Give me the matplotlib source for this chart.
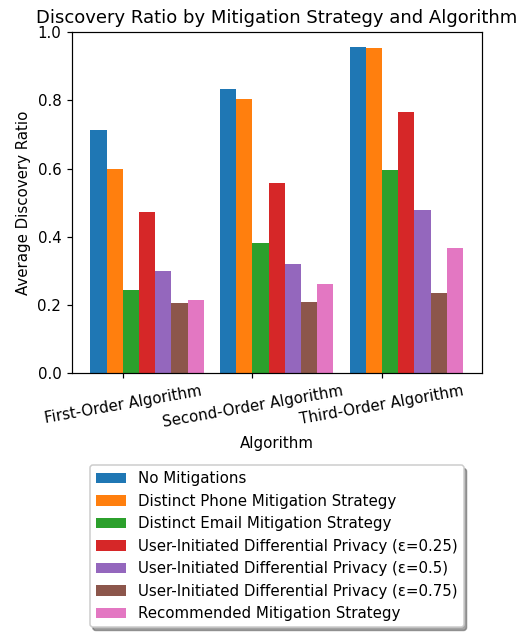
import numpy as np
import matplotlib.pyplot as plt

algorithms = ['First-Order Algorithm', 'Second-Order Algorithm', 'Third-Order Algorithm']
strategies = [
    'No Mitigations',
    'Distinct Phone Mitigation Strategy',
    'Distinct Email Mitigation Strategy',
    'User-Initiated Differential Privacy (ε=0.25)',
    'User-Initiated Differential Privacy (ε=0.5)',
    'User-Initiated Differential Privacy (ε=0.75)',
    'Recommended Mitigation Strategy',
]

# average discovery ratio per strategy, one value per algorithm
no_mitigations = [0.713, 0.834, 0.958]
distinct_phone = [0.598, 0.805, 0.955]
distinct_email = [0.242, 0.382, 0.595]
dp_025 = [0.471, 0.557, 0.767]
dp_05 = [0.299, 0.320, 0.478]
dp_075 = [0.205, 0.208, 0.233]
recommended = [0.214, 0.262, 0.367]

series = [no_mitigations, distinct_phone, distinct_email, dp_025, dp_05, dp_075, recommended]

dpi = 108
fig = plt.figure(figsize=(524 / dpi, 633 / dpi), dpi=dpi)
ax = fig.add_axes([0.137, 0.411, 0.782, 0.538])

x = np.arange(len(algorithms))
width = 0.125
for i, (name, vals) in enumerate(zip(strategies, series)):
    ax.bar(x + (i - 1.5) * width, vals, width, label=name)

ax.set_ylim(0, 1.0)
ax.set_xticks(x)
ax.set_xticklabels(algorithms, rotation=10)
ax.set_xlabel('Algorithm')
ax.set_ylabel('Average Discovery Ratio')
ax.set_title('Discovery Ratio by Mitigation Strategy and Algorithm')
ax.legend(loc='upper center', bbox_to_anchor=(0.5, -0.25), shadow=True)

plt.savefig('out.png', dpi=dpi)
